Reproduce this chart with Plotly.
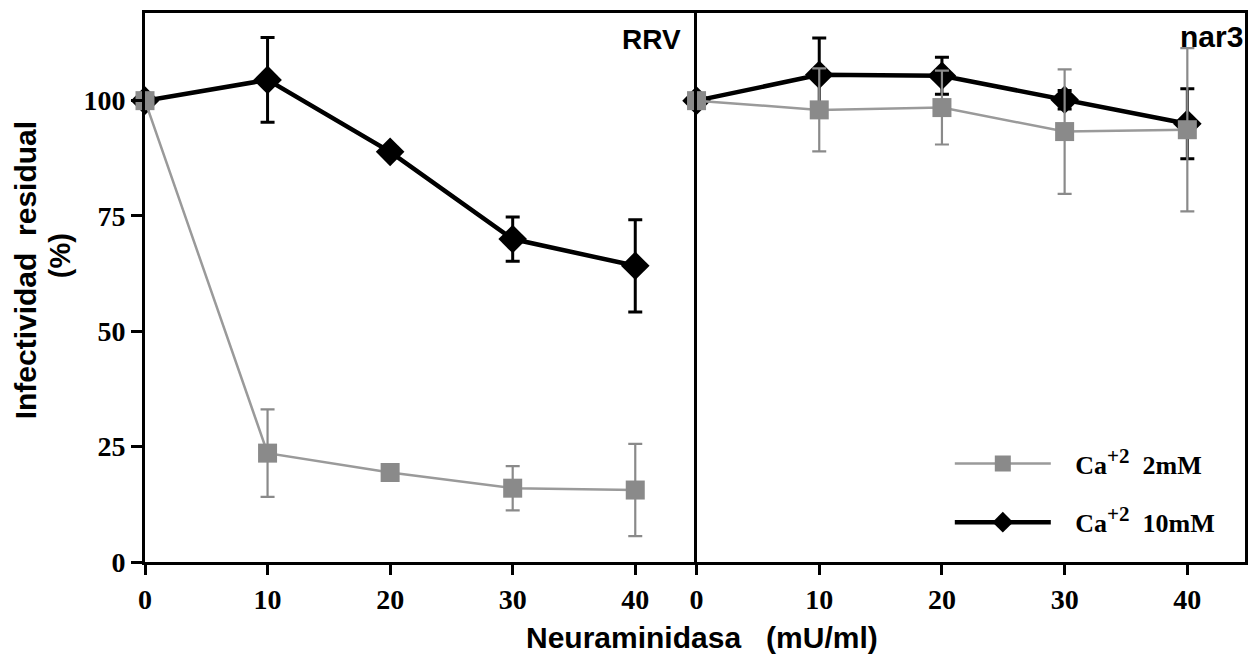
import plotly.graph_objects as go
from plotly.subplots import make_subplots

dose = [0, 10, 20, 30, 40]

# RRV panel
rrv_2mM = [100, 23.6, 19.4, 16.0, 15.6]
rrv_2mM_err = [0, 9.5, 0.8, 4.8, 10.0]
rrv_10mM = [100, 104.5, 88.9, 70.0, 64.2]
rrv_10mM_err = [0, 9.2, 0.8, 4.8, 10.0]

# nar3 panel
nar3_2mM = [100, 98.0, 98.5, 93.3, 93.7]
nar3_2mM_err = [0, 9.0, 8.0, 13.5, 17.7]
nar3_10mM = [100, 105.6, 105.4, 100.2, 95.0]
nar3_10mM_err = [0, 8.0, 4.0, 2.0, 7.6]

y_ticks = [0, 25, 50, 75, 100]
x_ticks = [0, 10, 20, 30, 40]

GRAY = "#8a8a8a"
BLACK = "#000000"
SERIF = "Liberation Serif"
SANS = "Liberation Sans"
NB = "\u00a0"
SUP = "Ca<sup><span style='font-size:21px'>+2</span></sup>"

fig = make_subplots(rows=1, cols=2, shared_yaxes=True, horizontal_spacing=0)

def add_pair(col, y10, e10, y2, e2, show):
    fig.add_trace(go.Scatter(
        x=dose, y=y10, mode="lines+markers",
        name=NB * 3 + SUP + NB * 2 + "10mM",
        line=dict(color=BLACK, width=4.5),
        marker=dict(symbol="diamond", size=22, color=BLACK),
        error_y=dict(type="data", array=e10, color=BLACK, thickness=3, width=7),
        cliponaxis=False, showlegend=show, legendrank=2, legendgroup="b"),
        row=1, col=col)
    fig.add_trace(go.Scatter(
        x=dose, y=y2, mode="lines+markers",
        name=NB * 3 + SUP + NB * 2 + "2mM",
        line=dict(color="#9a9a9a", width=2.5),
        marker=dict(symbol="square", size=19, color=GRAY),
        error_y=dict(type="data", array=e2, color="#8a8a8a", thickness=2.2, width=7),
        cliponaxis=False, showlegend=show, legendrank=1, legendgroup="a"),
        row=1, col=col)

add_pair(1, rrv_10mM, rrv_10mM_err, rrv_2mM, rrv_2mM_err, True)
add_pair(2, nar3_10mM, nar3_10mM_err, nar3_2mM, nar3_2mM_err, False)

tickfont = dict(family=SERIF, size=28, color="black", weight="bold")

fig.update_xaxes(
    tickvals=x_ticks, ticks="outside", ticklen=10, tickwidth=3, tickcolor="black",
    showline=True, linewidth=3, linecolor="black", mirror=True,
    showgrid=False, zeroline=False, tickfont=tickfont)
fig.update_xaxes(range=[0, 45], domain=[0, 0.5014], row=1, col=1)
fig.update_xaxes(range=[0, 44.7], domain=[0.5014, 1], row=1, col=2)

fig.update_yaxes(
    range=[0, 119], tickvals=y_ticks, showline=True, linewidth=3,
    linecolor="black", showgrid=False, zeroline=False, tickfont=tickfont)
fig.update_yaxes(ticks="outside", ticklen=11, tickwidth=3, tickcolor="black",
                 mirror=False, row=1, col=1)
fig.update_yaxes(ticks="", showticklabels=False, mirror=True, row=1, col=2)

L, R, T, B = 145, 4, 13, 98
W, H = 1252, 660
pw, ph = W - L - R, H - T - B

def px(x):
    return (x - L) / pw

def py(y):
    return (H - B - y) / ph

annotations = [
    dict(text="<b>RRV</b>", x=0.975, y=py(39), xref="x domain", yref="paper",
         xanchor="right", yanchor="middle", showarrow=False,
         font=dict(family=SANS, size=28, color="black")),
    dict(text="<b>nar3</b>", x=1.0, y=py(36), xref="x2 domain", yref="paper",
         xanchor="right", yanchor="middle", showarrow=False,
         font=dict(family=SANS, size=30, color="black")),
    dict(text="<b>Infectividad" + NB * 2 + "residual</b>", x=px(25), y=py(270),
         xref="paper", yref="paper", xanchor="center", yanchor="middle",
         showarrow=False, textangle=-90,
         font=dict(family=SANS, size=30, color="black")),
    dict(text="<b>(%)</b>", x=px(60), y=py(256),
         xref="paper", yref="paper", xanchor="center", yanchor="middle",
         showarrow=False, textangle=-90,
         font=dict(family=SANS, size=29, color="black")),
    dict(text="<b>Neuraminidasa" + NB * 3 + "(mU/ml)</b>", x=px(704), y=py(637),
         xref="paper", yref="paper", xanchor="center", yanchor="middle",
         showarrow=False,
         font=dict(family=SANS, size=30, color="black")),
]

fig.update_layout(
    width=W, height=H,
    margin=dict(l=L, r=R, t=T, b=B),
    plot_bgcolor="white", paper_bgcolor="white",
    annotations=annotations,
    legend=dict(x=px(952), y=py(440), xanchor="left", yanchor="top",
                bgcolor="rgba(0,0,0,0)", itemwidth=96, traceorder="grouped",
                tracegroupgap=22,
                font=dict(family=SERIF, size=26, color="black", weight="bold")),
)

fig.write_html("out.html")
